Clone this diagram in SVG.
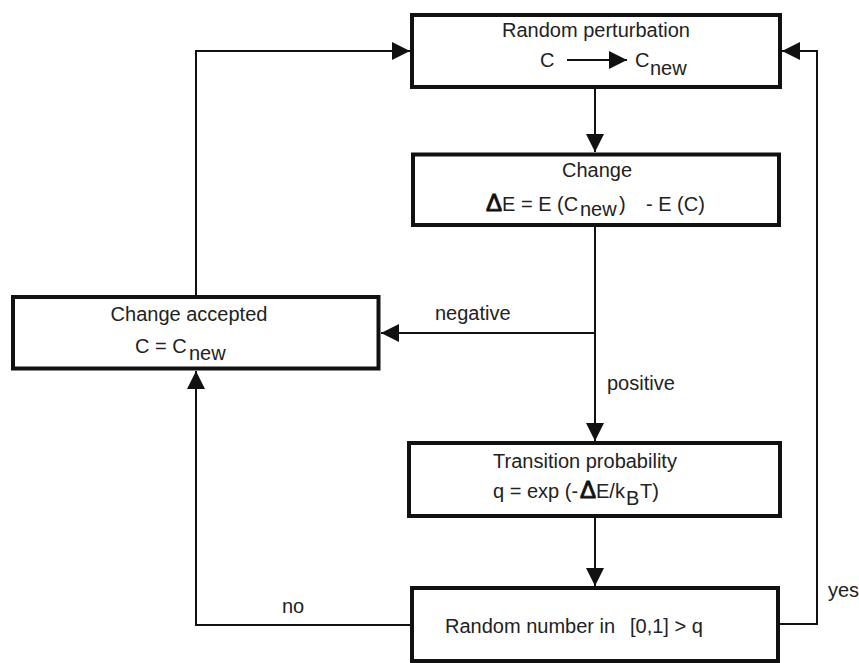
<svg xmlns="http://www.w3.org/2000/svg" width="859" height="663" viewBox="0 0 859 663">
<style>
  .box { fill: #ffffff; stroke: #111111; stroke-width: 4; }
  .conn { fill: none; stroke: #111111; stroke-width: 2; }
  text { font-family: "Liberation Sans", Arial, sans-serif; font-size: 20px; fill: #222222; }
  .mid { text-anchor: middle; }
  .delta { font-size: 24px; fill: #111111; stroke: #111111; stroke-width: 0.9; }
</style>
<defs>
  <marker id="ah" markerUnits="userSpaceOnUse" markerWidth="18" markerHeight="18" refX="18" refY="9" orient="auto">
    <path d="M0,0 L18,9 L0,18 z" fill="#111111"/>
  </marker>
</defs>
<rect width="859" height="663" fill="#ffffff"/>

<g id="connectors">
  <path class="conn" d="M595,87 L595,152" marker-end="url(#ah)"/>
  <path class="conn" d="M595,225 L595,441" marker-end="url(#ah)"/>
  <path class="conn" d="M595,333 L381,333" marker-end="url(#ah)"/>
  <path class="conn" d="M595,516 L595,586" marker-end="url(#ah)"/>
  <path class="conn" d="M412,625 L196,625 L196,371" marker-end="url(#ah)"/>
  <path class="conn" d="M778,624 L817,624 L817,51 L782,51" marker-end="url(#ah)"/>
  <path class="conn" d="M196,297 L196,51 L410,51" marker-end="url(#ah)"/>
  <text x="435" y="320">negative</text>
  <text x="607" y="390">positive</text>
  <text x="282" y="613">no</text>
  <text x="828" y="597">yes</text>
</g>

<g id="perturbation">
  <rect class="box" x="412" y="15" width="368" height="72"/>
  <text class="mid" x="596" y="37">Random perturbation</text>
  <text x="540" y="67">C</text>
  <path class="conn" d="M567,60 L627,60" marker-end="url(#ah)"/>
  <text x="635" y="67">C</text>
  <text x="650" y="75">new</text>
</g>

<g id="change">
  <rect class="box" x="413" y="154.5" width="366" height="70.5"/>
  <text class="mid" x="597" y="177">Change</text>
  <text class="delta" x="486" y="211">Δ</text>
  <text x="502" y="211">E = E (C</text>
  <text x="580" y="216">new</text>
  <text x="619" y="211">)</text>
  <text x="646" y="211">- E (C)</text>
</g>

<g id="accepted">
  <rect class="box" x="13" y="297" width="365.5" height="71.5"/>
  <text class="mid" x="189" y="321">Change accepted</text>
  <text x="135" y="353">C = C</text>
  <text x="189" y="360">new</text>
</g>

<g id="transition">
  <rect class="box" x="409" y="443" width="371" height="73"/>
  <text class="mid" x="585" y="468">Transition probability</text>
  <text x="493" y="498">q = exp (-</text>
  <text class="delta" x="580" y="498">Δ</text>
  <text x="596" y="498">E/k</text>
  <text x="626" y="505">B</text>
  <text x="640" y="498">T)</text>
</g>

<g id="random">
  <rect class="box" x="412" y="588" width="366" height="73"/>
  <text x="445" y="633">Random number in<tspan x="630">[0,1] &gt; q</tspan></text>
</g>
</svg>
